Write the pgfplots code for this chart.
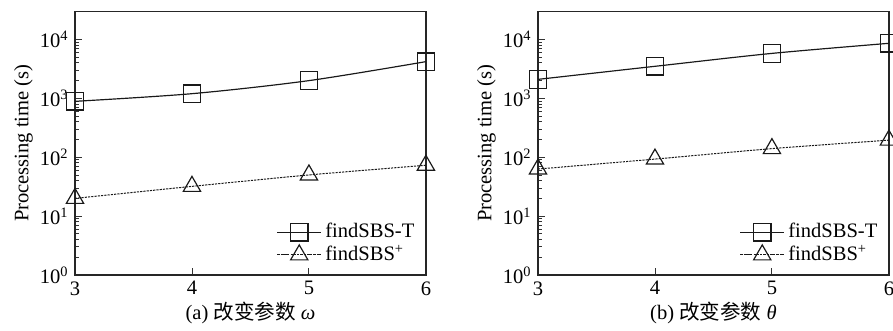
\documentclass[border=0pt]{standalone}
\usepackage{pgfplots}
\pgfplotsset{compat=1.18}
\usepackage{fontspec}
\setmainfont{Liberation Serif}
\newfontfamily\cjk{Noto Sans CJK SC}
\pgfplotsset{
  legend image code/.code={\draw[mark repeat=2,mark phase=2,#1] plot coordinates {(0pt,0pt)(12pt,0pt)(24pt,0pt)};},
  every axis/.append style={
    scale only axis, width=193pt, height=145pt,
    xtick pos=bottom, ytick pos=left, tick align=inside,
    major tick length=4pt, minor tick length=2.2pt,
    every tick/.style={black!80, line width=0.5pt},
    axis line style={black!85, line width=0.75pt},
    font=\fontsize{11.3}{13}\selectfont,
    tick label style={font=\fontsize{11.3}{13}\selectfont},
    ylabel style={yshift=-3pt},
    xlabel style={yshift=3pt},
    legend style={draw=none, fill=white, at={(0.98,0.03)}, anchor=south east,
      font=\fontsize{11.3}{9}\selectfont, inner sep=0.3pt, row sep=0pt,
      nodes={text height=7.2pt, text depth=1.2pt}},
    legend cell align=left,
  },
}
\begin{document}
\begin{tikzpicture}
\begin{axis}[at={(0pt,0pt)}, anchor=south west,
    ymode=log, ymin=1, ymax=30000,
    xmin=3, xmax=6, xtick={3,4,5,6},
    ytick={1,10,100,1000,10000},
    yticklabels={10\textsuperscript{0},10\textsuperscript{1},10\textsuperscript{2},10\textsuperscript{3},10\textsuperscript{4}},
    /pgf/number format/assume math mode=true,
    ylabel={Processing time (s)},
    xlabel={(a) {\cjk 改变参数} {\itshape ω}}]
\addplot[black!90, line width=0.65pt, smooth, mark=square, mark size=4.8pt, mark options={solid, line width=0.65pt}] coordinates {(3,890) (4,1200) (5,2000) (6,4200)};
\addlegendentry{findSBS-T}
\addplot[black!90, line width=0.55pt, smooth, dash pattern=on 1.2pt off 0.6pt, mark=triangle, mark size=5.5pt, mark options={solid, line width=0.65pt}] coordinates {(3,20) (4,32) (5,50) (6,73)};
\addlegendentry{findSBS\textsuperscript{+}}
\end{axis}
\begin{axis}[at={(254.65pt,0pt)}, anchor=south west,
    ymode=log, ymin=1, ymax=30000,
    xmin=3, xmax=6, xtick={3,4,5,6},
    ytick={1,10,100,1000,10000},
    yticklabels={10\textsuperscript{0},10\textsuperscript{1},10\textsuperscript{2},10\textsuperscript{3},10\textsuperscript{4}},
    /pgf/number format/assume math mode=true,
    ylabel={Processing time (s)},
    xlabel={(b) {\cjk 改变参数} {\itshape θ}}]
\addplot[black!90, line width=0.65pt, smooth, mark=square, mark size=4.8pt, mark options={solid, line width=0.65pt}] coordinates {(3,2100) (4,3500) (5,5800) (6,8600)};
\addlegendentry{findSBS-T}
\addplot[black!90, line width=0.55pt, smooth, dash pattern=on 1.2pt off 0.6pt, mark=triangle, mark size=5.5pt, mark options={solid, line width=0.65pt}] coordinates {(3,63) (4,93) (5,140) (6,195)};
\addlegendentry{findSBS\textsuperscript{+}}
\end{axis}
\pgfresetboundingbox
\path[use as bounding box] (-41.25pt,-30.8pt) rectangle (449.9pt,151.25pt);
\end{tikzpicture}
\end{document}
